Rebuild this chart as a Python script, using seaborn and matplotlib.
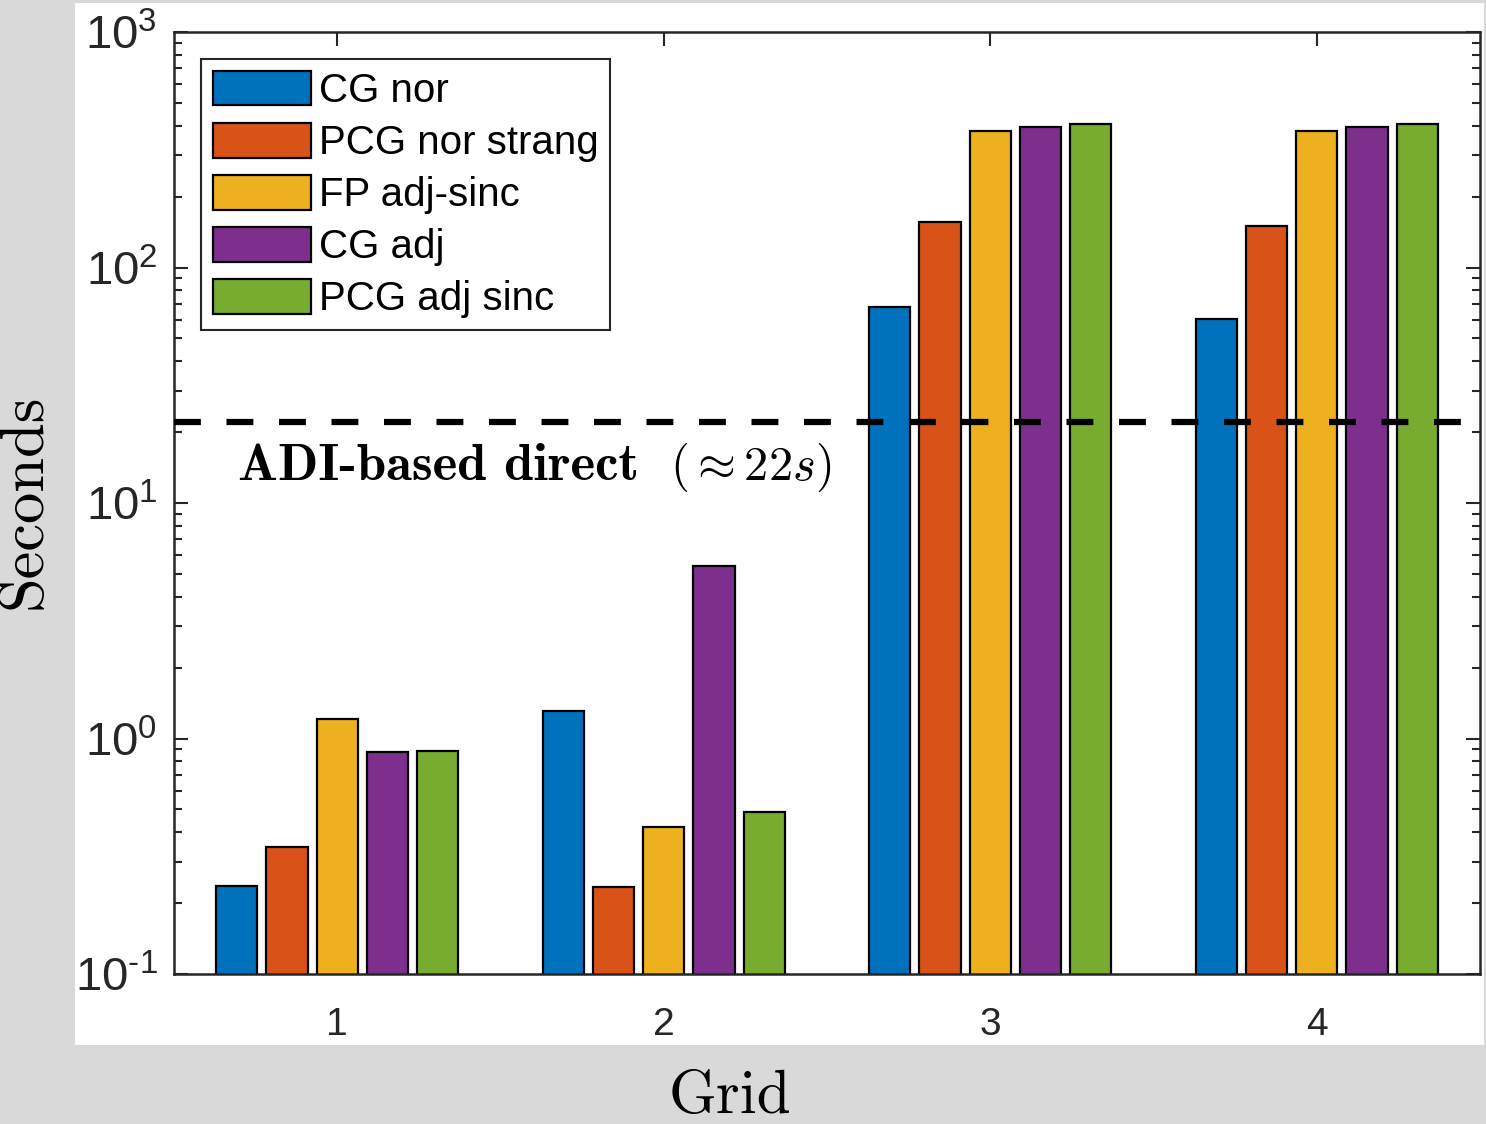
#!/usr/bin/env python3
#===============================================================================
# plot: solver timings per grid (log scale)
#===============================================================================

# Imports ======================================================================

import numpy as np
import pandas as pd
import matplotlib
matplotlib.use('Agg')
import matplotlib.pyplot as plt
from matplotlib.patches import Rectangle
from matplotlib.ticker import NullFormatter, FuncFormatter
from matplotlib.offsetbox import TextArea, HPacker, AnchoredOffsetbox
import seaborn as sns


# Data =========================================================================

grids = ['1', '2', '3', '4']
methods = ['CG nor', 'PCG nor strang', 'FP adj-sinc', 'CG adj', 'PCG adj sinc']
cg_nor = [0.236, 1.31, 67.9, 60.6]
pcg_nor_strang = [0.345, 0.235, 156, 150]
fp_adj_sinc = [1.21, 0.42, 380, 379]
cg_adj = [0.877, 5.40, 395, 395]
pcg_adj_sinc = [0.885, 0.488, 407, 407]
direct_time = 22
colors = ['#0072BD', '#D95319', '#EDB120', '#7E2F8E', '#77AC30']


# Functions ====================================================================

def build_frame():
    series = [cg_nor, pcg_nor_strang, fp_adj_sinc, cg_adj, pcg_adj_sinc]
    rows = []
    for name, vals in zip(methods, series):
        for g, v in zip(grids, vals):
            rows.append({'Grid': g, 'Method': name, 'Seconds': v})
    return pd.DataFrame(rows)


def power_label(value, pos):
    e = int(round(np.log10(value)))
    exp = str(e) if e >= 0 else r'\text{-}' + str(-e)
    return r'$\mathdefault{10^{%s}}$' % exp


def main():
    sns.set_theme(style='ticks')
    plt.rcParams['font.family'] = ['Liberation Sans', 'DejaVu Sans']
    plt.rcParams['mathtext.fontset'] = 'custom'
    plt.rcParams['mathtext.rm'] = 'Liberation Sans'
    plt.rcParams['mathtext.it'] = 'Liberation Sans:italic'
    plt.rcParams['mathtext.bf'] = 'Liberation Sans:bold'
    plt.rcParams['axes.unicode_minus'] = False

    dark = '#262626'
    W, H = 1486, 1124
    fig = plt.figure(figsize=(W / 100, H / 100), dpi=100, facecolor='#d9d9d9')
    # white figure area (grey frame around it, like the original screenshot)
    fig.patches.append(Rectangle((75 / W, 1 - 1045 / H), (1484 - 75) / W,
                                 (1045 - 3) / H, transform=fig.transFigure,
                                 facecolor='white', edgecolor='none',
                                 zorder=-5))
    ax = fig.add_axes([174 / W, 1 - 974 / H, (1480 - 174) / W, (974 - 32) / H])
    ax.set_zorder(2)

    data = build_frame()
    sns.barplot(data=data, x='Grid', y='Seconds', hue='Method', order=grids,
                hue_order=methods, palette=colors, saturation=1, width=0.77,
                gap=0.18, edgecolor='black', linewidth=1.6, errorbar=None,
                ax=ax)
    ax.set_yscale('log')
    ax.set_ylim(0.1, 1000)
    ax.set_xlim(-0.5, 3.5)
    ax.set_yticks([0.1, 1, 10, 100, 1000])
    ax.yaxis.set_major_formatter(FuncFormatter(power_label))
    ax.yaxis.set_minor_formatter(NullFormatter())

    ax.axhline(direct_time, color='black', lw=4.5, ls=(0, (4.3, 4.1)),
               zorder=3)

    for s in ax.spines.values():
        s.set_color(dark)
        s.set_linewidth(1.8)
        s.set_visible(True)
    ax.tick_params(which='both', direction='in', top=True, right=True,
                   colors=dark, width=1.5)
    ax.tick_params(which='major', length=10)
    ax.tick_params(axis='x', which='major', pad=24, labelsize=28)
    ax.tick_params(axis='y', which='major', pad=12, labelsize=34)
    ax.tick_params(which='minor', length=6)
    ax.set_xlabel('')
    ax.set_ylabel('')

    old = ax.get_legend()
    handles = old.legend_handles
    labels = [t.get_text() for t in old.get_texts()]
    old.remove()
    for h in handles:
        h.set_edgecolor('black')
        h.set_linewidth(1.6)
    leg = ax.legend(handles, labels, loc='upper left', fontsize=29,
                    frameon=True, fancybox=False, framealpha=1,
                    edgecolor=dark, handlelength=2.43, handleheight=0.95,
                    handletextpad=0.22, labelspacing=0.32, borderpad=0.28,
                    borderaxespad=0.68)
    leg.get_frame().set_linewidth(1.5)
    for t in leg.get_texts():
        t.set_color('black')

    # annotation for the direct solver line
    part1 = TextArea('ADI-based direct',
                     textprops=dict(family='cmb10', fontsize=38, color='black'))
    part2 = TextArea(r'$(\approx 22s)$',
                     textprops=dict(math_fontfamily='cm', fontsize=35,
                                    color='black'))
    pack = HPacker(children=[part1, part2], align='baseline', pad=0, sep=22)
    box = AnchoredOffsetbox(loc='center left', child=pack, pad=0, borderpad=0,
                            frameon=False, bbox_to_anchor=(238 / W, 1 - 467 / H),
                            bbox_transform=fig.transFigure)
    ax.add_artist(box)

    fig.text(25 / W, 1 - 501 / H, 'Seconds', family='cmr10', fontsize=45,
             rotation=90, ha='center', va='center', color='black')
    fig.text(730 / W, 1 - 1113 / H, 'Grid', family='cmr10', fontsize=44,
             ha='center', va='baseline', color='black')

    fig.savefig('out.png', dpi=100, facecolor=fig.get_facecolor())


# Execute ======================================================================

if __name__ == '__main__':
    main()
